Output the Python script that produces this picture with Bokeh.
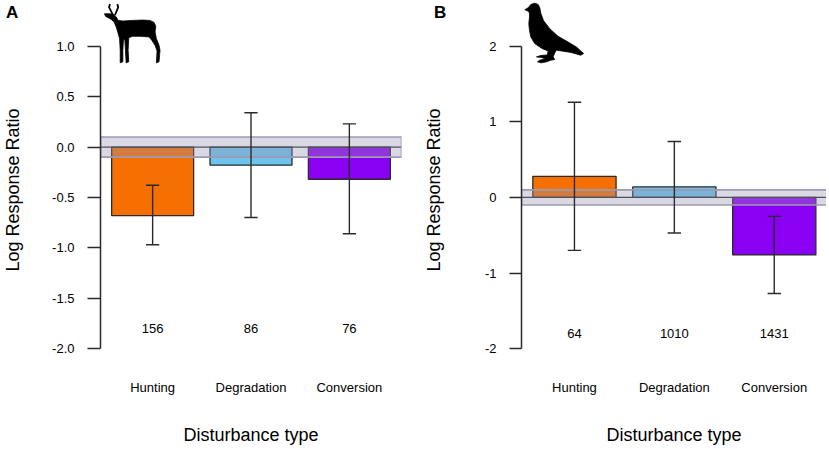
from bokeh.plotting import figure
from bokeh.models import Range1d, FixedTicker, PrintfTickFormatter, Div
from bokeh.layouts import row
from bokeh.embed import file_html
from bokeh.resources import INLINE
from bokeh.core.properties import value

# ---------------- data ----------------
categories = ["Hunting", "Degradation", "Conversion"]
bar_colors = ["#f57000", "#6cc4ee", "#8a00f2"]

a_mean = [-0.68, -0.18, -0.32]
a_lower = [-0.97, -0.70, -0.86]
a_upper = [-0.38, 0.34, 0.23]
a_counts = ["156", "86", "76"]
a_ticks = [-2.0, -1.5, -1.0, -0.5, 0.0, 0.5, 1.0]

b_mean = [0.28, 0.14, -0.76]
b_lower = [-0.70, -0.47, -1.27]
b_upper = [1.26, 0.74, -0.25]
b_counts = ["64", "1010", "1431"]
b_ticks = [-2, -1, 0, 1, 2]

band_half_width = 0.1
count_label_y = -1.8

# ---------------- decorative silhouettes (outline, icon units) ----------------
gazelle_body = [(14,40),(28,40),(42,42),(50,50),(56,60),(70,62),(100,60),(130,59),(152,60),
                (165,66),(170,78),(168,95),(172,115),(180,135),(183,150),(180,185),(172,188),
                (174,152),(168,135),(158,120),(150,110),(125,108),(100,108),(88,112),(86,150),
                (88,185),(80,188),(78,150),(76,118),(72,116),(70,150),(70,185),(62,188),(62,150),
                (60,115),(56,100),(50,80),(44,66),(36,58),(26,52),(18,48)]
gazelle_horns = [[(40,44),(33,30),(28,20),(31,11)], [(46,44),(52,30),(56,20),(53,11)]]

pigeon_body = [(10,28),(20,22),(28,12),(40,8),(50,12),(55,22),(58,38),(66,60),(85,85),(110,108),
               (140,125),(165,140),(187,160),(178,165),(150,157),(120,152),(105,150),(100,158),
               (95,170),(100,178),(88,180),(75,185),(60,188),(48,185),(55,180),(72,176),(60,172),
               (45,170),(58,166),(78,164),(80,152),(62,145),(40,130),(28,110),(24,90),(22,70),
               (24,50),(24,38),(20,32)]

FONT = "Liberation Sans"
H = 447
FRAME_H = 381
INK = "#2b2b2b"


def make_panel(means, lower, upper, counts, ticks, fmt,
               zero_px, unit_px, width, left, right, usr_frac, tick_out,
               ylab_standoff, body, lines, icon_dx):
    xs = [i + 1 for i in range(len(categories))]
    bw = 1 / 1.2
    x0 = min(xs) - bw / 2
    x1 = max(xs) + bw / 2
    pad = 0.04 * (x1 - x0)
    u0, u1 = x0 - pad, x1 + pad
    x_end = u0 + (u1 - u0) * usr_frac
    y_top = zero_px / unit_px
    y_bot = y_top - FRAME_H / unit_px
    frame_w = width - left - right

    p = figure(width=width, height=H, x_range=Range1d(u0, x_end),
               y_range=Range1d(y_bot, y_top), output_backend="svg",
               toolbar_location=None, min_border_left=left, min_border_right=right,
               min_border_top=0, min_border_bottom=H - FRAME_H)
    p.extra_x_ranges = {"px": Range1d(0, frame_w)}
    p.extra_y_ranges = {"px": Range1d(FRAME_H, 0)}
    p.outline_line_color = None
    p.xgrid.visible = False
    p.ygrid.visible = False
    p.background_fill_color = "white"
    p.border_fill_color = "white"

    p.vbar(x=xs, width=bw, bottom=0, top=means, fill_color=bar_colors,
           line_color=INK, line_width=1.3)
    p.segment(x0=[u0], x1=[u1], y0=[0], y1=[0], line_color=INK, line_width=1.3)
    p.quad(left=[u0], right=[u1], bottom=[-band_half_width], top=[band_half_width],
           fill_color="#9894b2", fill_alpha=0.36, line_color="#9c99b0", line_width=1.6)
    cap = 0.067
    p.segment(x0=xs, x1=xs, y0=lower, y1=upper, line_color=INK, line_width=1.4)
    p.segment(x0=[x - cap for x in xs], x1=[x + cap for x in xs], y0=lower, y1=lower,
              line_color=INK, line_width=1.4)
    p.segment(x0=[x - cap for x in xs], x1=[x + cap for x in xs], y0=upper, y1=upper,
              line_color=INK, line_width=1.4)
    p.text(x=xs, y=[count_label_y] * len(xs), text=counts, text_align="center",
           text_baseline="middle", text_font=value(FONT), text_font_size="13px",
           text_color="black")

    # silhouette icon (decoration), in frame pixel units
    sx = [pt[0] / 3 + icon_dx for pt in body]
    sy = [pt[1] / 3 for pt in body]
    p.patch(sx, sy, fill_color="black", line_color="black", line_width=0.8,
            x_range_name="px", y_range_name="px")
    if lines:
        p.multi_line([[pt[0] / 3 + icon_dx for pt in ln] for ln in lines],
                     [[pt[1] / 3 for pt in ln] for ln in lines],
                     line_color="black", line_width=1.8,
                     x_range_name="px", y_range_name="px")

    ya = p.yaxis[0]
    ya.ticker = FixedTicker(ticks=ticks)
    ya.formatter = PrintfTickFormatter(format=fmt)
    ya.bounds = (min(ticks), max(ticks))
    ya.axis_line_color = INK
    ya.axis_line_width = 1.5
    ya.major_tick_line_color = INK
    ya.major_tick_line_width = 1.4
    ya.major_tick_out = tick_out
    ya.major_tick_in = 0
    ya.minor_tick_line_color = None
    ya.major_label_standoff = 13
    ya.major_label_text_font = FONT
    ya.major_label_text_font_size = "13px"
    ya.major_label_text_color = "black"
    ya.axis_label = "Log Response Ratio"
    ya.axis_label_text_font = FONT
    ya.axis_label_text_font_size = "18px"
    ya.axis_label_text_font_style = "normal"
    ya.axis_label_text_color = "black"
    ya.axis_label_standoff = ylab_standoff

    xa = p.xaxis[0]
    xa.ticker = FixedTicker(ticks=xs)
    xa.major_label_overrides = {x: c for x, c in zip(xs, categories)}
    xa.axis_line_color = None
    xa.major_tick_line_color = None
    xa.minor_tick_line_color = None
    xa.major_tick_out = 0
    xa.major_tick_in = 0
    xa.major_label_standoff = 0
    xa.major_label_text_font = FONT
    xa.major_label_text_font_size = "13px"
    xa.major_label_text_color = "black"
    xa.axis_label = "Disturbance type"
    xa.axis_label_text_font = FONT
    xa.axis_label_text_font_size = "18px"
    xa.axis_label_text_font_style = "normal"
    xa.axis_label_text_color = "black"
    xa.axis_label_standoff = 27
    return p


def panel_letter(letter, left_px):
    return Div(text=letter, width=24, height=22,
               styles={"position": "absolute", "left": f"{left_px}px", "top": "4px",
                       "font-family": FONT, "font-weight": "bold", "font-size": "17px",
                       "line-height": "17px", "color": "black", "margin": "0",
                       "padding": "0", "z-index": "10"})


pa = make_panel(a_mean, a_lower, a_upper, a_counts, a_ticks, "%.1f",
                147.3, 101.3, 420, 96, 19, 1.0, 13, 26,
                gazelle_body, gazelle_horns, -0.7)
pb = make_panel(b_mean, b_lower, b_upper, b_counts, b_ticks, "%d",
                198.0, 76.0, 406, 100, 0, 306 / 306.7, 12, 38,
                pigeon_body, None, 0.0)

layout = row(pa, pb, panel_letter("A", 6), panel_letter("B", 434))
open("out.html", "w").write(file_html(layout, INLINE))
